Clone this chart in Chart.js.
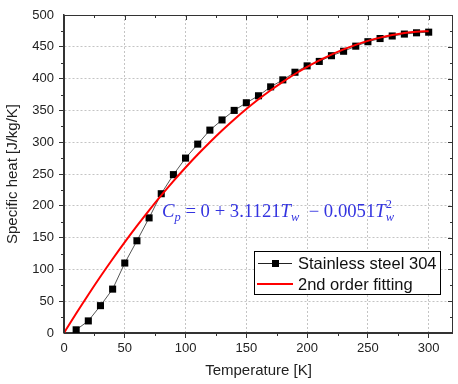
<!DOCTYPE html>
<html>
<head>
<meta charset="utf-8">
<script src="https://cdn.jsdelivr.net/npm/chart.js@4"></script>
<style>
  html, body { margin: 0; padding: 0; background: #fff; }
  canvas { display: block; }
</style>
</head>
<body>
<canvas id="cpChart" width="458" height="384"></canvas>
<script>
// measured data: stainless steel 304
const temps = [10, 20, 30, 40, 50, 60, 70, 80, 90, 100, 110, 120, 130, 140, 150,
               160, 170, 180, 190, 200, 210, 220, 230, 240, 250, 260, 270, 280, 290, 300];
const specificHeat = [5, 19, 43, 69, 110, 145, 181, 219, 249, 275, 297, 319, 335, 350, 362,
                      373, 387, 398, 410, 420, 427, 436, 443, 451, 458, 463, 467, 470, 472, 473];

// 2nd order fit
const fitTemps = [0, 10, 20, 30, 40, 50, 60, 70, 80, 90, 100, 110, 120, 130, 140, 150,
                  160, 170, 180, 190, 200, 210, 220, 230, 240, 250, 260, 270, 280, 290, 300];
const fitHeat = [0, 30.6, 60.2, 88.8, 116.3, 142.9, 168.4, 192.9, 216.3, 238.8, 260.2, 280.6,
                 300.0, 318.4, 335.7, 352.1, 367.4, 381.7, 394.9, 407.2, 418.4, 428.6, 437.8,
                 446.0, 453.1, 459.3, 464.4, 468.5, 471.6, 473.6, 474.6];

const xTicks = [0, 50, 100, 150, 200, 250, 300];
const yTicks = [0, 50, 100, 150, 200, 250, 300, 350, 400, 450, 500];
const legendLabels = ['Stainless steel 304', '2nd order fitting'];

const FONT = '"Liberation Sans", Arial, sans-serif';
const AXIS = '#333';

// frame, mirrored ticks, minor ticks
const framePlugin = {
    id: 'frame',
    afterDraw(chart) {
        const { ctx, chartArea: a, scales: { x, y } } = chart;
        ctx.save();
        ctx.strokeStyle = AXIS;
        ctx.lineWidth = 1;
        ctx.strokeRect(a.left + 0.5, a.top + 0.5, a.right - a.left - 1, a.bottom - a.top);
        ctx.beginPath();
        for (let v = 0; v <= 320; v += 25) {
            const px = Math.round(x.getPixelForValue(v)) + 0.5;
            const major = v % 50 === 0;
            if (!major) { ctx.moveTo(px, a.bottom); ctx.lineTo(px, a.bottom + 3); }
            ctx.moveTo(px, a.top); ctx.lineTo(px, a.top + (major ? 5 : 3));
        }
        for (let v = 0; v <= 500; v += 25) {
            const py = Math.round(y.getPixelForValue(v)) + 0.5;
            const major = v % 50 === 0;
            if (!major) { ctx.moveTo(a.left, py); ctx.lineTo(a.left - 3, py); }
            ctx.moveTo(a.right, py); ctx.lineTo(a.right - (major ? 5 : 3), py);
        }
        ctx.stroke();
        ctx.restore();
    }
};

// equation text and legend box
const notePlugin = {
    id: 'note',
    afterDraw(chart) {
        const { ctx } = chart;
        ctx.save();
        ctx.textBaseline = 'alphabetic';
        const SERIF = '"Liberation Serif", "DejaVu Serif", serif';
        const it = 'italic 18px ' + SERIF;
        const rm = '18px ' + SERIF;
        const sub = 'italic 12px ' + SERIF;
        const sup = '12px ' + SERIF;
        const parts = [
            ['C', it, 0], ['p', sub, 4], [' = 0 + 3.1121', rm, 0], ['T', it, 0], ['w', sub, 4],
            ['  \u2212 0.0051', rm, 0], ['T', it, 0], ['w', sub, 4]
        ];
        let total = 0;
        parts.forEach(p => { ctx.font = p[1]; total += ctx.measureText(p[0]).width; });
        const start = 162, width = 232, base = 217;
        ctx.translate(start, base);
        ctx.scale(width / total, 1);
        ctx.fillStyle = '#3434e0';
        let cx = 0, lastX = 0;
        parts.forEach(p => {
            ctx.font = p[1];
            ctx.fillText(p[0], cx, p[2]);
            lastX = cx;
            cx += ctx.measureText(p[0]).width;
        });
        ctx.font = sup;
        ctx.fillText('2', lastX, -9);
        ctx.setTransform(1, 0, 0, 1, 0, 0);

        // legend
        const lx = 254.5, ly = 251.5, lw = 186, lh = 43;
        ctx.fillStyle = '#fff';
        ctx.fillRect(lx, ly, lw, lh);
        ctx.strokeStyle = '#000';
        ctx.lineWidth = 1;
        ctx.strokeRect(lx, ly, lw, lh);
        ctx.beginPath();
        ctx.strokeStyle = '#222';
        ctx.moveTo(258, 263.5); ctx.lineTo(292, 263.5);
        ctx.stroke();
        ctx.fillStyle = '#000';
        ctx.fillRect(272, 260, 7, 7);
        ctx.beginPath();
        ctx.strokeStyle = '#ff0000';
        ctx.lineWidth = 2;
        ctx.moveTo(257, 284); ctx.lineTo(293, 284);
        ctx.stroke();
        ctx.fillStyle = '#111';
        ctx.font = '16.5px ' + FONT;
        ctx.textBaseline = 'middle';
        ctx.fillText(legendLabels[0], 298, 264);
        ctx.fillText(legendLabels[1], 298, 285);
        ctx.restore();
    }
};

new Chart(document.getElementById('cpChart'), {
    type: 'scatter',
    data: {
        datasets: [{
            label: legendLabels[0],
            data: temps.map((t, i) => ({ x: t, y: specificHeat[i] })),
            showLine: true,
            borderColor: '#555',
            borderWidth: 1,
            pointStyle: 'rect',
            pointRadius: 5,
            pointBackgroundColor: '#000',
            pointBorderColor: '#000',
            pointBorderWidth: 0,
            order: 2
        }, {
            label: legendLabels[1],
            data: fitTemps.map((t, i) => ({ x: t, y: fitHeat[i] })),
            showLine: true,
            borderColor: '#ff0000',
            borderWidth: 2,
            pointRadius: 0,
            tension: 0.4,
            order: 1
        }]
    },
    options: {
        responsive: false,
        animation: false,
        layout: { padding: { top: 15, right: 3, left: 0, bottom: 0 } },
        plugins: { legend: { display: false }, tooltip: { enabled: false } },
        scales: {
            x: {
                type: 'linear',
                min: 0,
                max: 320,
                afterBuildTicks: s => { s.ticks = xTicks.map(v => ({ value: v })); },
                afterFit: s => { s.height = 51; },
                ticks: { color: '#222', font: { family: FONT, size: 13 }, padding: 3, maxRotation: 0 },
                grid: {
                    color: '#c4c4c4', tickColor: AXIS, tickLength: 5, tickBorderDash: [],
                    lineWidth: c => (c.tick && c.tick.value === 0 ? 0 : 1)
                },
                border: { color: AXIS, width: 1.5, dash: [2, 2] },
                title: { display: true, text: 'Temperature [K]', color: '#222',
                         font: { family: FONT, size: 15 }, padding: { top: 2 } }
            },
            y: {
                type: 'linear',
                min: 0,
                max: 500,
                afterBuildTicks: s => { s.ticks = yTicks.map(v => ({ value: v })); },
                afterFit: s => { s.width = 64; },
                ticks: { color: '#222', font: { family: FONT, size: 13 }, padding: 5 },
                grid: {
                    color: '#c4c4c4', tickColor: AXIS, tickLength: 5, tickBorderDash: [],
                    lineWidth: c => (c.tick && (c.tick.value === 0 || c.tick.value === 500) ? 0 : 1)
                },
                border: { color: AXIS, width: 1.5, dash: [2, 2] },
                title: { display: true, text: 'Specific heat [J/kg/K]', color: '#222',
                         font: { family: FONT, size: 15 }, padding: { bottom: 2 } }
            }
        }
    },
    plugins: [framePlugin, notePlugin]
});
</script>
</body>
</html>
